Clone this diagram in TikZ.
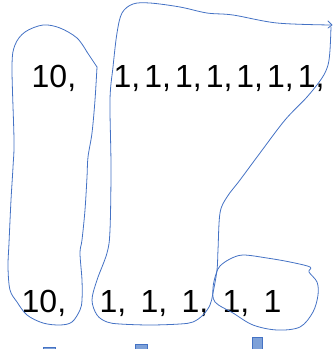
\documentclass[tikz,border=0pt]{standalone}
\usepackage{fontspec}
\setmainfont{Liberation Sans}
\definecolor{loopblue}{HTML}{4472C4}
\definecolor{barfill}{HTML}{7EA1D8}
\tikzset{
 lasso/.style={draw=loopblue, line width=0.8pt, line join=round, line cap=round},
 numtext/.style={anchor=base west, inner sep=0pt, font=\fontsize{32}{34}\selectfont},
 smallbar/.style={fill=barfill, draw=loopblue, line width=0.6pt}
}
\begin{document}
\begin{tikzpicture}[x=1pt,y=-1pt]
\useasboundingbox (0,0) rectangle (334,349);
\clip (0,0) rectangle (334,349);
% texts
\node[numtext] (ta) at (31.5,87) {10,};
\node[numtext] (tb) at (113.5,87) {1,\kern4pt1,\kern4pt1,\kern4pt1,\kern4pt1,\kern4pt1,\kern4pt1,};
\node[numtext] (ba) at (21.5,312) {10,};
\node[numtext] (bb) at (99.5,312) {\spaceskip=14.3pt 1, 1, 1, 1, 1};
% left loop
\draw[lasso] plot[smooth, tension=0.55] coordinates {
 (87,52) (77,38) (60,28) (43,25) (25,32) (15,45) (12,67) (14,140) (13,167)
 (11,200) (9,243) (8,267) (10,290) (17,302) (27,315) (43,323) (60,325) (72,322)
 (80,310) (82,300) (82,280) (80,253) (82,240) (85,210) (87,177) (88,157) (92,133) (95,100) (97,67)};
\draw[lasso] (87,52) -- (97,67);
% middle loop
\draw[lasso] plot[smooth, tension=0.55] coordinates {
 (331,27) (330,50) (328,65) (322,78) (307,97) (285,120) (260,153) (240,180)
 (227,197) (220,213) (218,250) (217,270) (213,293) (210,305) (203,315) (193,322)
 (180,324) (150,325) (120,324) (107,322) (97,315) (92,300) (97,280) (107,253)
 (110,230) (111,167) (110,100) (113,67) (117,33) (122,13) (133,4) (150,3)
 (180,7) (207,13) (233,15) (277,23) (331,25)};
\draw[lasso] (328,21) -- (332,25) -- (328,28);
% right loop
\draw[lasso] plot[smooth cycle, tension=0.55] coordinates {
 (220,266) (230,259) (243,255) (267,258) (290,262) (310,267) (309,272) (317,282)
 (318,295) (313,312) (300,327) (277,330) (253,325) (233,313) (215,302) (213,288) (216,274)};
% small bars at the bottom
\draw[smallbar] (43,347) rectangle (55,352);
\draw[smallbar] (135,344) rectangle (147,352);
\draw[smallbar] (252,337) rectangle (262,352);
\end{tikzpicture}
\end{document}
